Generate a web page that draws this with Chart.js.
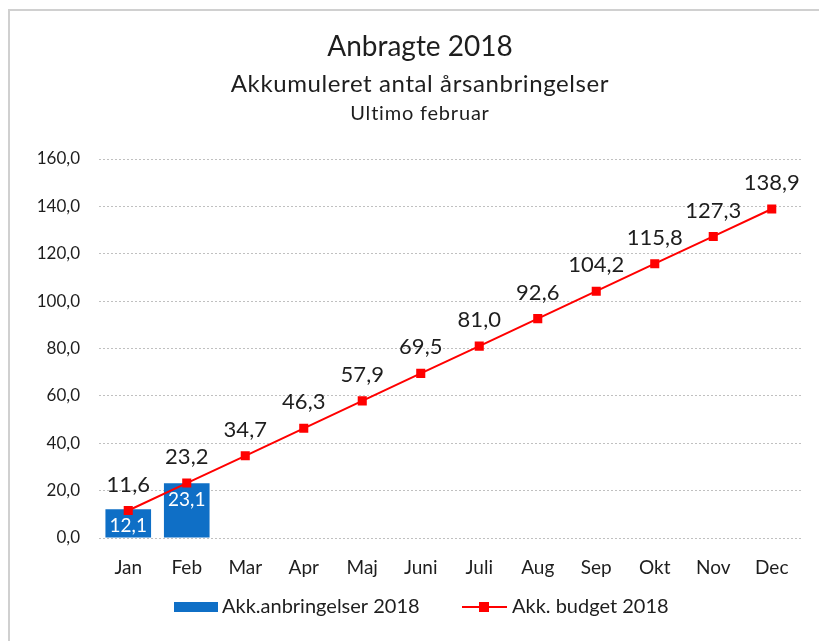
<!DOCTYPE html>
<html><head><meta charset="utf-8">
<script src="https://cdn.jsdelivr.net/npm/chart.js@4"></script>
<style>
html,body{margin:0;padding:0;background:#fff;}
#wrap{position:relative;width:819px;height:641px;}
#frame{position:absolute;left:8px;top:9px;right:-2px;bottom:-2px;border-top:2px solid #d0d0d0;border-left:2px solid #d0d0d0;}
canvas{position:absolute;left:0;top:0;}
</style></head>
<body><div id="wrap"><div id="frame"></div><canvas id="c" width="819" height="641"></canvas></div>
<script>
const months = ['Jan','Feb','Mar','Apr','Maj','Juni','Juli','Aug','Sep','Okt','Nov','Dec'];
const actual = [12.1, 23.1];
const budget = [11.6, 23.2, 34.7, 46.3, 57.9, 69.5, 81.0, 92.6, 104.2, 115.8, 127.3, 138.9];
const titleLines = ['Anbragte 2018', 'Akkumuleret antal årsanbringelser', 'Ultimo februar'];
const yTicks = [0, 20, 40, 60, 80, 100, 120, 140, 160];
const FONT = 'Lato, "Open Sans", sans-serif';
const TXT = '#1e1e1e';
const fmt = v => v.toFixed(1).replace('.', ',');

const titlePlugin = {
  id: 'titles',
  afterDraw(chart) {
    const ctx = chart.ctx;
    ctx.save();
    ctx.fillStyle = TXT;
    ctx.textAlign = 'center';
    ctx.textBaseline = 'middle';
    const cx = 420;
    ctx.font = '28px ' + FONT; ctx.fillText(titleLines[0], cx, 47);
    ctx.letterSpacing = '0.6px';
    ctx.font = '24px ' + FONT; ctx.fillText(titleLines[1], cx, 84);
    ctx.letterSpacing = '0.8px';
    ctx.font = '20px ' + FONT; ctx.fillText(titleLines[2], cx, 114);
    ctx.restore();
  }
};

const labelPlugin = {
  id: 'labels',
  afterDatasetsDraw(chart) {
    const ctx = chart.ctx;
    ctx.save();
    ctx.textAlign = 'center';
    ctx.textBaseline = 'middle';
    chart.data.datasets.forEach((ds, i) => {
      const meta = chart.getDatasetMeta(i);
      meta.data.forEach((el, j) => {
        const v = ds.data[j];
        if (ds.type === 'bar') {
          ctx.fillStyle = '#ffffff';
          ctx.font = '19px ' + FONT;
          ctx.fillText(fmt(v), el.x, el.y + 17);
        } else {
          ctx.fillStyle = TXT;
          ctx.font = '22px ' + FONT;
          ctx.fillText(fmt(v), el.x, el.y - 26);
        }
      });
    });
    ctx.restore();
  }
};

const legendPlugin = {
  id: 'customLegend',
  afterDraw(chart) {
    const ctx = chart.ctx;
    const ds = chart.data.datasets;
    const y = 607;
    ctx.save();
    ctx.font = '20px ' + FONT;
    ctx.textBaseline = 'middle';
    ctx.textAlign = 'left';
    ctx.fillStyle = ds[0].backgroundColor;
    ctx.fillRect(174, y - 5, 44, 10);
    ctx.fillStyle = TXT;
    ctx.fillText(ds[0].label, 222, y);
    ctx.strokeStyle = ds[1].borderColor;
    ctx.lineWidth = 2;
    ctx.beginPath(); ctx.moveTo(462, y); ctx.lineTo(507, y); ctx.stroke();
    ctx.fillStyle = ds[1].pointBackgroundColor;
    ctx.fillRect(479, y - 5, 10, 10);
    ctx.fillStyle = TXT;
    ctx.fillText(ds[1].label, 512, y);
    ctx.restore();
  }
};

new Chart(document.getElementById('c'), {
  data: {
    labels: months,
    datasets: [
      { type: 'bar', label: 'Akk.anbringelser 2018', data: actual,
        backgroundColor: '#0f6fc6', categoryPercentage: 0.78, barPercentage: 1.0, order: 2 },
      { type: 'line', label: 'Akk. budget 2018', data: budget,
        borderColor: '#ff0000', borderWidth: 2, pointStyle: 'rect', pointRadius: 5,
        pointBackgroundColor: '#ff0000', pointBorderColor: '#ff0000', tension: 0, order: 1 }
    ]
  },
  options: {
    responsive: false,
    animation: false,
    layout: { padding: { top: 159, right: 18, bottom: 0, left: 0 } },
    plugins: { legend: { display: false }, title: { display: false }, tooltip: { enabled: false } },
    scales: {
      x: {
        grid: { display: false, drawTicks: false },
        border: { display: false },
        ticks: { color: TXT, font: { size: 19, family: FONT }, padding: 18 },
        afterFit(s) { s.height = 103; }
      },
      y: {
        min: 0, max: 160,
        afterBuildTicks(s) { s.ticks = yTicks.map(v => ({ value: v })); },
        afterFit(s) { s.width = 99; },
        grid: { color: '#c0c0c0', drawTicks: false, lineWidth: 1 },
        border: { display: false, dash: [2, 2] },
        ticks: { color: TXT, font: { size: 17, family: FONT }, padding: 19,
                 callback: v => fmt(v) }
      }
    }
  },
  plugins: [titlePlugin, labelPlugin, legendPlugin]
});
</script>
</body></html>
